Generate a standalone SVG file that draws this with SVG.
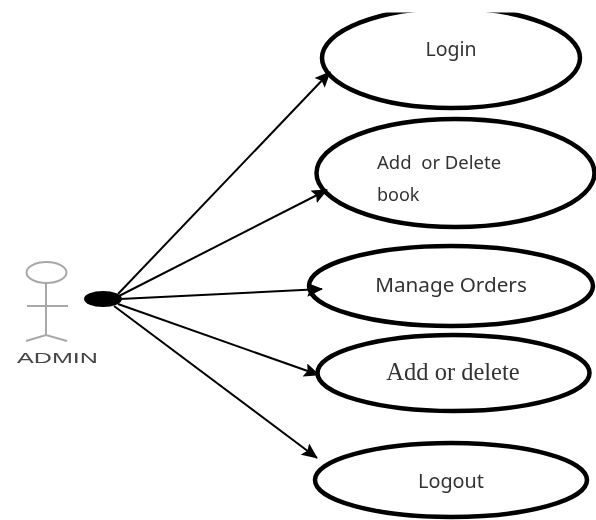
<svg xmlns="http://www.w3.org/2000/svg" width="596" height="520" viewBox="0 0 596 520">
<style>
.uc{fill:none;stroke:#000;stroke-width:4.500}
.t{font-family:"Noto Sans","Open Sans","Liberation Sans",sans-serif;fill:#333}
.c{stroke:#000;stroke-width:2;fill:none;marker-end:url(#a)}
.act{fill:none;stroke:#a8a8a8;stroke-width:2}
</style>
<defs>
<marker id="a" viewBox="0 0 16 14" refX="15" refY="7" markerWidth="16" markerHeight="14" markerUnits="userSpaceOnUse" orient="auto"><path d="M0 0L16 7L0 14L3 7Z" fill="#000"/></marker>
<filter id="b" x="-5%" y="-5%" width="110%" height="110%"><feGaussianBlur stdDeviation="0.5"/></filter>
</defs>
<rect width="596" height="520" fill="#fff"/>
<g filter="url(#b)">
<g id="connectors">
<path class="c" d="M118 294L330 72"/>
<path class="c" d="M119 296L327 190"/>
<path class="c" d="M120 299L322 289"/>
<path class="c" d="M118 304L319 375"/>
<path class="c" d="M114 306L317 458"/>
</g>
<g id="admin">
<ellipse class="act" cx="46.500" cy="272.500" rx="20" ry="10.500"/>
<path class="act" d="M46 283V335M27 306H68M26 341L46 335L67 341"/>
<ellipse cx="103" cy="299" rx="19" ry="8" fill="#000"/>
<text x="17" y="363" class="t" font-size="14" textLength="81" lengthAdjust="spacingAndGlyphs" style="font-family:'Liberation Sans',sans-serif;fill:#444">ADMIN</text>
</g>
<g id="login">
<ellipse class="uc" cx="451" cy="58" rx="129" ry="50"/>
<rect x="300" y="0" width="296" height="12.500" fill="#fff"/>
<text x="451" y="56" class="t" font-size="19.500" text-anchor="middle">Login</text>
</g>
<g id="add-delete-book">
<ellipse class="uc" cx="455.500" cy="173" rx="139" ry="54"/>
<text x="377" y="169" class="t" font-size="18.500" xml:space="preserve">Add  or Delete</text>
<text x="377" y="201" class="t" font-size="18">book</text>
</g>
<g id="manage-orders">
<ellipse class="uc" cx="451" cy="286" rx="142" ry="40"/>
<text x="451" y="292" class="t" font-size="20.700" text-anchor="middle">Manage Orders</text>
</g>
<g id="add-delete">
<ellipse class="uc" cx="453.500" cy="373" rx="136" ry="38"/>
<text x="453" y="380" class="t" font-size="24.500" text-anchor="middle" style="font-family:'Liberation Serif',serif">Add or delete</text>
</g>
<g id="logout">
<ellipse class="uc" cx="451" cy="480" rx="136" ry="37"/>
<text x="451" y="488" class="t" font-size="19.800" text-anchor="middle">Logout</text>
</g>
</g>
</svg>
